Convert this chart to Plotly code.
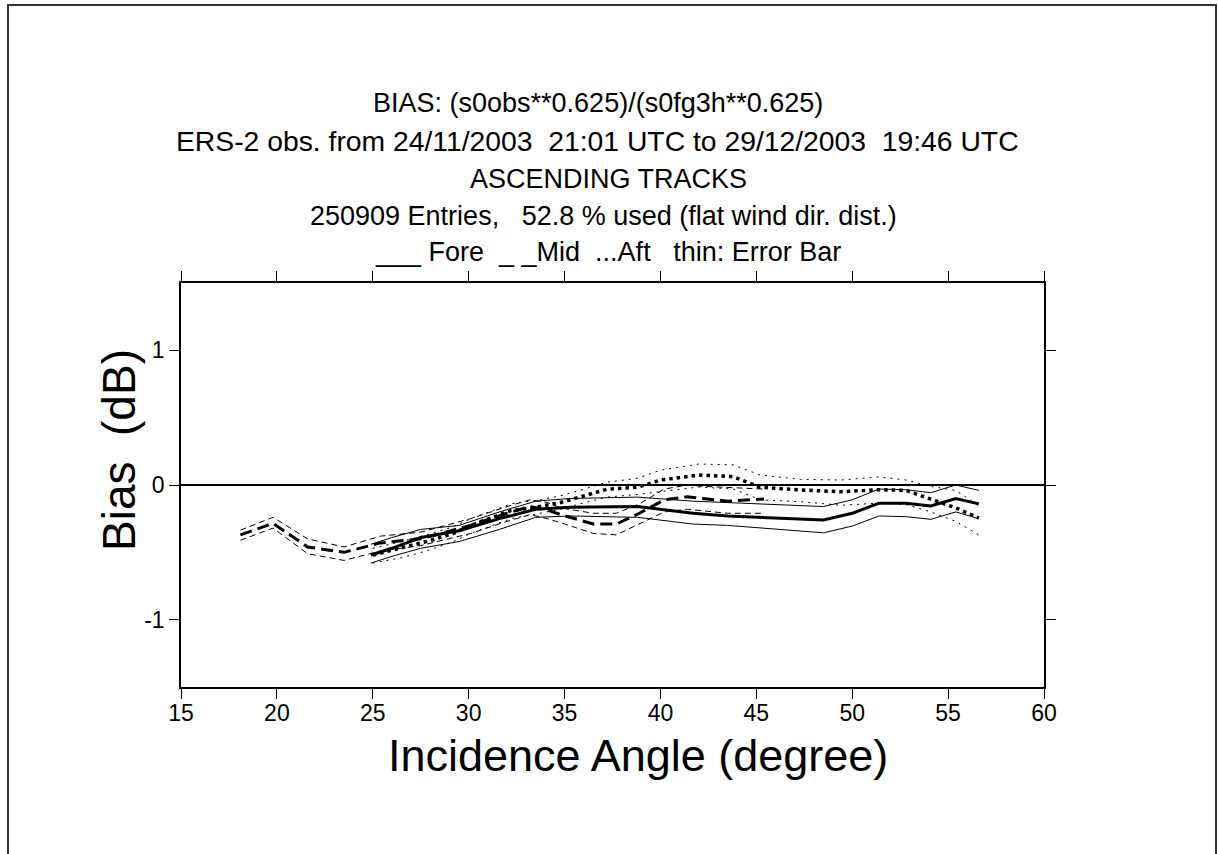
import plotly.graph_objects as go

# ---------------- data ----------------
fore_x = [24.9, 26.0, 27.5, 29.5, 31.6, 33.5, 35.3, 38.8, 41.7, 43.5, 48.5, 50.0, 51.4, 52.8, 54.1, 55.4, 56.6]
fore_mean = [-0.52, -0.47, -0.39, -0.34, -0.25, -0.18, -0.165, -0.16, -0.21, -0.23, -0.26, -0.21, -0.135, -0.135, -0.155, -0.10, -0.14]
fore_up = [-0.44, -0.39, -0.33, -0.30, -0.20, -0.12, -0.10, -0.09, -0.12, -0.13, -0.16, -0.11, -0.03, -0.035, -0.057, 0.0, -0.04]
fore_lo = [-0.58, -0.53, -0.47, -0.42, -0.33, -0.24, -0.23, -0.24, -0.29, -0.30, -0.355, -0.305, -0.23, -0.235, -0.255, -0.20, -0.25]

mid_x = [18.1, 19.8, 21.6, 23.5, 25.4, 27.5, 30.1, 32.0, 33.2, 34.1, 34.8, 36.5, 37.7, 38.9, 40.2, 41.4, 42.2, 43.5, 45.4]
mid_mean = [-0.37, -0.285, -0.46, -0.50, -0.43, -0.40, -0.30, -0.21, -0.16, -0.186, -0.22, -0.29, -0.29, -0.21, -0.11, -0.087, -0.10, -0.12, -0.104]
mid_up = [-0.335, -0.24, -0.40, -0.46, -0.38, -0.35, -0.25, -0.16, -0.11, -0.13, -0.17, -0.21, -0.21, -0.14, -0.03, 0.0, -0.01, -0.02, -0.03]
mid_lo = [-0.41, -0.32, -0.51, -0.56, -0.49, -0.45, -0.36, -0.27, -0.22, -0.25, -0.28, -0.36, -0.37, -0.29, -0.20, -0.18, -0.19, -0.21, -0.21]

aft_x = [25.0, 26.5, 27.8, 29.2, 30.1, 32.2, 33.7, 34.8, 35.8, 37.2, 38.8, 40.0, 42.0, 43.8, 45.2, 47.3, 49.4, 51.4, 52.8, 54.1, 55.4, 56.6]
aft_mean = [-0.52, -0.47, -0.42, -0.36, -0.30, -0.19, -0.16, -0.13, -0.087, -0.032, -0.017, 0.037, 0.074, 0.062, -0.017, -0.037, -0.05, -0.035, -0.04, -0.105, -0.17, -0.245]
aft_up = [-0.47, -0.42, -0.37, -0.31, -0.25, -0.14, -0.11, -0.08, -0.04, 0.02, 0.05, 0.11, 0.156, 0.149, 0.074, 0.042, 0.037, 0.06, 0.037, -0.01, -0.04, -0.155]
aft_lo = [-0.58, -0.54, -0.49, -0.42, -0.36, -0.25, -0.21, -0.18, -0.14, -0.09, -0.07, -0.05, -0.015, -0.03, -0.11, -0.124, -0.15, -0.135, -0.145, -0.20, -0.27, -0.37]

x_ticks = [15, 20, 25, 30, 35, 40, 45, 50, 55, 60]
y_ticks = [-1, 0, 1]
y_tick_text = ["-1", "0", "1"]

title_lines = [
    "BIAS: (s0obs**0.625)/(s0fg3h**0.625)",
    "ERS-2 obs. from 24/11/2003\u00a0\u00a021:01 UTC to 29/12/2003\u00a0\u00a019:46 UTC",
    "ASCENDING TRACKS",
    "250909 Entries,\u00a0\u00a0\u00a052.8 % used (flat wind dir. dist.)",
    "___ Fore\u00a0\u00a0_ _Mid\u00a0\u00a0...Aft\u00a0\u00a0\u00a0thin: Error Bar",
]
x_title = "Incidence Angle (degree)"
y_title = "Bias\u00a0\u00a0(dB)"

# ---------------- figure ----------------
FONT = "Liberation Sans, Arial, Helvetica, sans-serif"
fig = go.Figure()

def add(x, y, width, dash):
    fig.add_trace(go.Scatter(x=x, y=y, mode="lines",
                             line=dict(color="black", width=width, dash=dash),
                             showlegend=False, hoverinfo="skip"))

# error bars (thin)
for xs, up, lo, d in [(fore_x, fore_up, fore_lo, "solid"),
                      (mid_x, mid_up, mid_lo, "6px,4px"),
                      (aft_x, aft_up, aft_lo, "2px,5px")]:
    add(xs, up, 1, d)
    add(xs, lo, 1, d)

# means (thick)
add(fore_x, fore_mean, 3, "solid")
add(mid_x, mid_mean, 3, "12px,6px")
add(aft_x, aft_mean, 3.5, "3.5px,4px")

L, R, T, B = 181, 175, 283, 167
W, H = 1219, 854
pw, ph = W - L - R, H - T - B

def px(xp):
    return (xp - L) / pw

def py(yp):
    return (H - B - yp) / ph

title_y = [103, 141, 179, 216, 252]
title_cx = [597.5, 597.5, 608, 603, 608]
title_size = [27, 28.3, 27, 27, 27]
annotations = []
for txt, yy, cx, fs in zip(title_lines, title_y, title_cx, title_size):
    annotations.append(dict(text=txt, xref="paper", yref="paper", x=px(cx), y=py(yy),
                            xanchor="center", yanchor="middle", showarrow=False,
                            font=dict(family=FONT, size=fs, color="black")))
annotations.append(dict(text=x_title, xref="paper", yref="paper", x=px(638), y=py(755),
                        xanchor="center", yanchor="middle", showarrow=False,
                        font=dict(family=FONT, size=45, color="black")))
annotations.append(dict(text=y_title, xref="paper", yref="paper", x=px(119), y=py(450),
                        xanchor="center", yanchor="middle", showarrow=False, textangle=-90,
                        font=dict(family=FONT, size=46, color="black")))

shapes = [
    dict(type="path", xref="paper", yref="paper",
         path=f"M {px(8)},{py(900)} L {px(8)},{py(5)} L {px(1216)},{py(5)} L {px(1216)},{py(900)}",
         line=dict(color="#333333", width=2)),
]

fig.update_layout(
    width=W, height=H,
    margin=dict(l=L, r=R, t=T, b=B, pad=0),
    paper_bgcolor="white", plot_bgcolor="white",
    font=dict(family=FONT, size=23, color="black"),
    annotations=annotations,
    shapes=shapes,
    xaxis=dict(range=[15, 60], tickvals=x_ticks, ticks="outside", ticklen=10, tickwidth=1.2,
               tickcolor="black", showline=True, linecolor="black", linewidth=1.5,
               mirror="allticks", showgrid=False, zeroline=False, ticklabelstandoff=-5,
               tickfont=dict(family=FONT, size=23, color="black")),
    yaxis=dict(range=[-1.5, 1.5], tickvals=y_ticks, ticktext=y_tick_text,
               ticks="outside", ticklen=10, tickwidth=1.2,
               tickcolor="black", showline=True, linecolor="black", linewidth=1.5,
               mirror="allticks", showgrid=False, zeroline=True, zerolinecolor="black",
               zerolinewidth=2, tickfont=dict(family=FONT, size=23, color="black")),
)

fig.write_html("out.html", config={"displayModeBar": False},
               post_script="document.body.style.margin='0px';")
